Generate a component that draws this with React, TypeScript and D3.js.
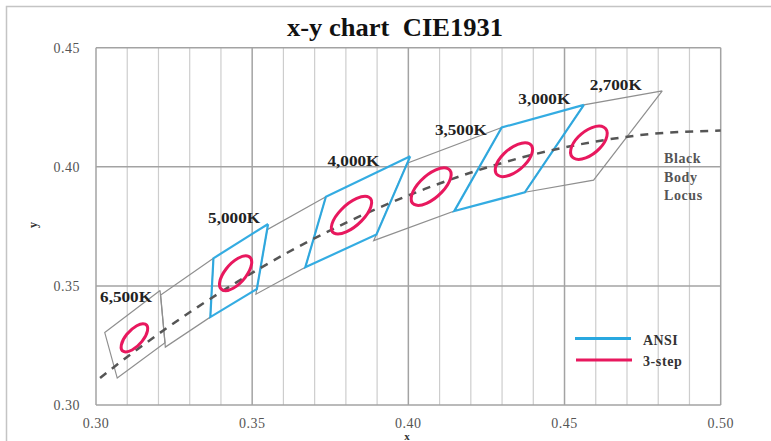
import React from "react";
import * as d3 from "d3";

const xTicks = [0.3, 0.35, 0.4, 0.45, 0.5];
const yTicks = [0.3, 0.35, 0.4, 0.45];
const minorX = [0.31, 0.32, 0.33, 0.34, 0.36, 0.37, 0.38, 0.39, 0.41, 0.42, 0.43, 0.44, 0.46, 0.47, 0.48, 0.49];

// ANSI C78.377 quadrangles: [x, y] corners
const quadNames = ["6500K", "5700K", "5000K", "4500K", "4000K", "3500K", "3000K", "2700K"];
const quadIsAnsi = [false, false, true, false, true, false, true, false];
const quadCorners: [number, number][][] = [
  [[0.3205, 0.3481], [0.3028, 0.3304], [0.3068, 0.3113], [0.3221, 0.3261]],
  [[0.3376, 0.3616], [0.3207, 0.3462], [0.3222, 0.3243], [0.3366, 0.3369]],
  [[0.3551, 0.376], [0.3376, 0.3616], [0.3366, 0.3369], [0.3515, 0.3487]],
  [[0.3736, 0.3874], [0.3548, 0.3736], [0.3512, 0.3465], [0.367, 0.3578]],
  [[0.4006, 0.4044], [0.3736, 0.3874], [0.367, 0.3578], [0.3898, 0.3716]],
  [[0.4299, 0.4165], [0.3996, 0.4015], [0.3889, 0.369], [0.4147, 0.3814]],
  [[0.4562, 0.426], [0.4299, 0.4165], [0.4147, 0.3814], [0.4373, 0.3893]],
  [[0.4813, 0.4319], [0.4562, 0.426], [0.4373, 0.3893], [0.4593, 0.3944]],
];

// 3-step MacAdam ellipses: center x, center y, a, b, theta (deg)
const ellCx = [0.3123, 0.3447, 0.3818, 0.4073, 0.4338, 0.4578];
const ellCy = [0.3282, 0.3553, 0.3797, 0.3917, 0.403, 0.4101];
const ellA = [0.00669, 0.00822, 0.00939, 0.00927, 0.00834, 0.0081];
const ellB = [0.00285, 0.00354, 0.00402, 0.00414, 0.00408, 0.0042];
const ellTheta = [58.57, 59.62, 53.43, 54.0, 53.22, 53.7];

// Planckian (black body) locus
const locusX = [0.3013, 0.3064, 0.3135, 0.3221, 0.3324, 0.3451, 0.3608, 0.3805, 0.4053, 0.4369, 0.4599, 0.477, 0.5];
const locusY = [0.3113, 0.3166, 0.3236, 0.3318, 0.341, 0.3516, 0.3636, 0.3768, 0.3907, 0.4041, 0.4106, 0.4137, 0.4152];

// CCT labels
const cctLabels = ["6,500K", "5,000K", "4,000K", "3,500K", "3,000K", "2,700K"];
const cctLabelX = [0.3013, 0.3359, 0.3741, 0.4085, 0.4352, 0.4581];
const cctLabelY = [0.3431, 0.3764, 0.4003, 0.4135, 0.4265, 0.4322];

const legendNames = ["ANSI", "3-step"];

const BLUE = "#29a8e0";
const RED = "#e8185e";

export default function App() {
  const W = 771, H = 441;
  const x = d3.scaleLinear().domain([0.3, 0.5]).range([96, 720.7]);
  const y = d3.scaleLinear().domain([0.3, 0.45]).range([405, 47.7]);
  const sx = (x(0.5) - x(0.3)) / 0.2;
  const sy = (y(0.3) - y(0.45)) / 0.15;

  const quadPath = (c: [number, number][]) =>
    d3.line<[number, number]>().x((d) => x(d[0])).y((d) => y(d[1]))(c.concat([c[0]])) as string;

  const locusPts = locusX.map((v, i) => [v, locusY[i]] as [number, number]);
  const locusPath = d3
    .line<[number, number]>()
    .x((d) => x(d[0]))
    .y((d) => y(d[1]))
    .curve(d3.curveMonotoneX)(locusPts) as string;

  const serif = "'Liberation Serif', 'Times New Roman', serif";

  return (
    <svg width={W} height={H} style={{ position: "absolute", left: 0, top: 0, background: "#fff" }}>
      <rect x={6.5} y={6.5} width={900} height={600} fill="#fff" stroke="#c4c4c4" strokeWidth={1.5} />
      <text x={395} y={36} textAnchor="middle" fontFamily={serif} fontWeight="bold" fontSize={25} fill="#111" textLength={216} lengthAdjust="spacingAndGlyphs" style={{ whiteSpace: "pre" }}>
        {"x-y chart  CIE1931"}
      </text>

      {/* grid */}
      {minorX.map((v) => (
        <line key={"mx" + v} x1={x(v)} x2={x(v)} y1={y(0.3)} y2={y(0.45)} stroke="#cdcdcd" strokeWidth={1.2} />
      ))}
      {xTicks.map((v) => (
        <line key={"Mx" + v} x1={x(v)} x2={x(v)} y1={y(0.3)} y2={y(0.45)} stroke="#a3a3a3" strokeWidth={1.5} />
      ))}
      {yTicks.map((v) => (
        <line key={"My" + v} x1={x(0.3)} x2={x(0.5)} y1={y(v)} y2={y(v)} stroke="#a3a3a3" strokeWidth={1.5} />
      ))}

      {/* tick labels */}
      {yTicks.map((v) => (
        <text key={"yl" + v} x={80} y={y(v) + 5} textAnchor="end" fontFamily={serif} fontSize={14} fill="#555" letterSpacing={0.5}>
          {v.toFixed(2)}
        </text>
      ))}
      {xTicks.map((v) => (
        <text key={"xl" + v} x={x(v)} y={428} textAnchor="middle" fontFamily={serif} fontSize={14} fill="#555" letterSpacing={0.5}>
          {v.toFixed(2)}
        </text>
      ))}
      <text x={0} y={0} transform="translate(37,225) rotate(-90)" textAnchor="middle" fontFamily={serif} fontWeight="bold" fontSize={12} fill="#333">
        y
      </text>
      <text x={407} y={440} textAnchor="middle" fontFamily={serif} fontWeight="bold" fontSize={11} fill="#333">
        x
      </text>

      {/* quadrangles: gray first, blue on top */}
      {quadCorners.map((c, i) =>
        quadIsAnsi[i] ? null : (
          <path key={"q" + quadNames[i]} d={quadPath(c)} fill="none" stroke="#8f8f8f" strokeWidth={1.2} />
        )
      )}
      {quadCorners.map((c, i) =>
        quadIsAnsi[i] ? (
          <path key={"qa" + quadNames[i]} d={quadPath(c)} fill="none" stroke={BLUE} strokeWidth={2.2} strokeOpacity={0.95} />
        ) : null
      )}

      {/* black body locus */}
      <path d={locusPath} fill="none" stroke="#555" strokeWidth={2.5} strokeDasharray="8,7" />

      {/* ellipses */}
      {ellCx.map((cx, i) => (
        <ellipse
          key={"e" + i}
          cx={0}
          cy={0}
          rx={ellA[i]}
          ry={ellB[i]}
          transform={`translate(${x(cx)},${y(ellCy[i])}) matrix(${sx},0,0,${-sy},0,0) rotate(${ellTheta[i]})`}
          fill="none"
          stroke={RED}
          strokeWidth={3}
          vectorEffect="non-scaling-stroke"
        />
      ))}

      {/* CCT labels */}
      {cctLabels.map((t, i) => (
        <text key={t} x={x(cctLabelX[i])} y={y(cctLabelY[i])} fontFamily={serif} fontWeight="bold" fontSize={14} fill="#222" textLength={52} lengthAdjust="spacingAndGlyphs">
          {t}
        </text>
      ))}

      {/* Black body locus label */}
      {["Black", "Body", "Locus"].map((t, i) => (
        <text key={t} x={664} y={163 + i * 18.5} fontFamily={serif} fontWeight="bold" fontSize={14} fill="#555" letterSpacing={0.6}>
          {t}
        </text>
      ))}

      {/* legend */}
      <line x1={575} x2={631} y1={338.5} y2={338.5} stroke={BLUE} strokeWidth={3} />
      <line x1={576} x2={632} y1={360} y2={360} stroke={RED} strokeWidth={3} />
      <text x={643} y={344.5} fontFamily={serif} fontWeight="bold" fontSize={14} fill="#333" letterSpacing={0.4}>
        {legendNames[0]}
      </text>
      <text x={643} y={366} fontFamily={serif} fontWeight="bold" fontSize={14} fill="#333" letterSpacing={0.6}>
        {legendNames[1]}
      </text>
    </svg>
  );
}
